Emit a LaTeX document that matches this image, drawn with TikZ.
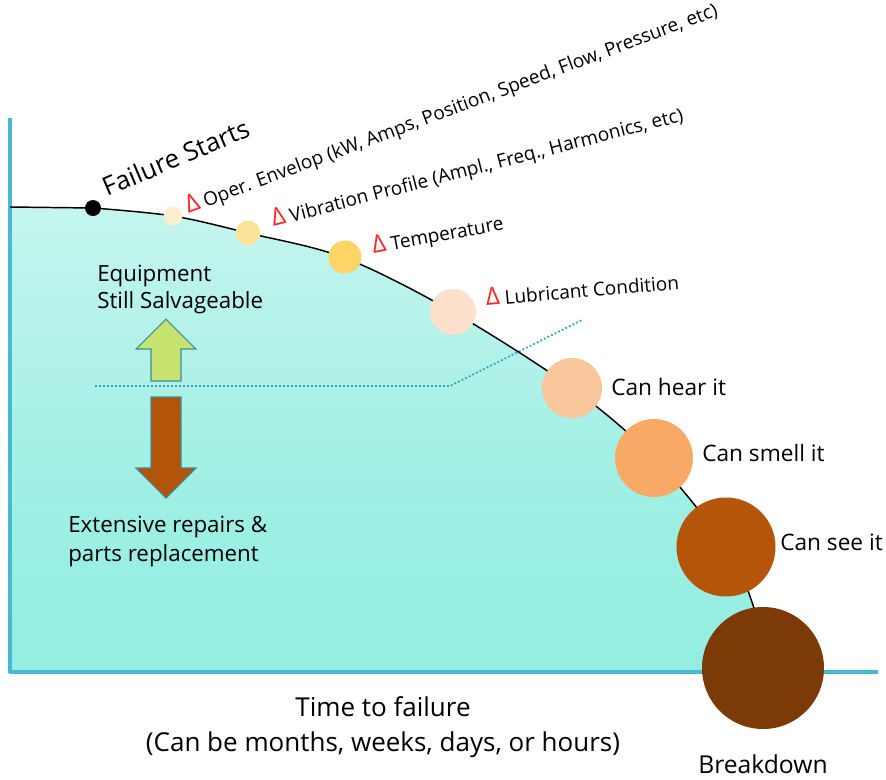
\documentclass[tikz,border=0pt]{standalone}
\usepackage{fontspec}
\setmainfont{Open Sans}
\definecolor{axisblue}{HTML}{48B9D3}
\definecolor{deltared}{HTML}{FF2A2A}
\definecolor{dotline}{HTML}{3A9CB5}
\definecolor{arrowedge}{HTML}{3E8E9E}
\definecolor{upgreen}{HTML}{C5E36E}
\definecolor{downbrown}{HTML}{B25409}
\definecolor{fillA}{HTML}{A6F1E6}
\definecolor{fillB}{HTML}{88EDDE}
\definecolor{fillC}{HTML}{9FEFE4}
\definecolor{fillD}{HTML}{CBF6F1}
\definecolor{fillE}{HTML}{E9FBF9}
\definecolor{s1}{HTML}{FDEFCC}
\definecolor{s2}{HTML}{FCE39A}
\definecolor{s3}{HTML}{FDD466}
\definecolor{s4}{HTML}{FBE0CC}
\definecolor{s5}{HTML}{F9C59A}
\definecolor{s6}{HTML}{F8A966}
\definecolor{s7}{HTML}{B45509}
\definecolor{s8}{HTML}{7B3A06}
\pgfdeclareverticalshading{areashade}{100bp}{color(0bp)=(fillA); color(7bp)=(fillB); color(45bp)=(fillC); color(80bp)=(fillD); color(100bp)=(fillE)}
\newcommand{\pxfont}[1]{\fontsize{#1}{#1}\selectfont}
\newcommand{\dl}{{\color{deltared}\scalebox{1.3}{Δ}}\ }
\tikzset{
  stage/.style={circle, inner sep=0pt, draw=none},
  tag/.style={anchor=base west, inner sep=0pt, text=black},
  slanted/.style={tag, font=\pxfont{14.25pt}},
  side/.style={tag, font=\pxfont{17pt}},
  note/.style={tag, font=\pxfont{16.75pt}, align=left},
  axisline/.style={axisblue, line width=2.4pt},
  blockarrow/.style={draw=arrowedge, line width=0.8pt, line join=miter},
}
\begin{document}
\begin{tikzpicture}[x=0.75pt, y=-0.75pt]
\useasboundingbox (0,0) rectangle (886,779);

% area under the degradation curve
\fill[shading=areashade] (10,207) -- (93,208)
  -- plot[smooth, tension=0.55] coordinates {(93,208) (173,216) (248,233) (345,258) (453,312) (572,388) (654,458) (726,547) (754,608) (768,672)}
  -- (10,672) -- cycle;

% axes
\draw[axisline] (10,118) -- (10,673.2);
\draw[axisline] (8.8,672) -- (878,672);

% boundary between salvageable and extensive repair
\draw[dotline, line width=1.3pt, dash pattern=on 1.4pt off 1.6pt] (95,386) -- (450,386) -- (582,320);

% degradation curve
\draw[line width=1.1pt] (10,207) -- (93,208)
  plot[smooth, tension=0.55] coordinates {(93,208) (173,216) (248,233) (345,258) (453,312) (572,388) (654,458) (726,547) (754,608) (768,672)};

% symptom stages along the curve
\node[stage, fill=black, minimum size=12pt] (fs) at (93,208) {};
\node[stage, fill=s1, minimum size=14.25pt] (oe) at (173,216) {};
\node[stage, fill=s2, minimum size=18.75pt] (vp) at (248,233) {};
\node[stage, fill=s3, minimum size=24.75pt] (tp) at (345,257) {};
\node[stage, fill=s4, minimum size=34.5pt] (lc) at (453,312) {};
\node[stage, fill=s5, minimum size=45pt] (hr) at (572,388) {};
\node[stage, fill=s6, minimum size=58.5pt] (sm) at (654,458) {};
\node[stage, fill=s7, minimum size=74.25pt] (se) at (726,547) {};
\node[stage, fill=s8, minimum size=91.5pt] (bd) at (763,668) {};

% stage labels
\node[tag, font=\pxfont{19.3pt}, rotate=23] (fsl) at (107,197) {Failure Starts};
\node[slanted, rotate=20.5] (oel) at (188,214) {\dl Oper. Envelop (kW, Amps, Position, Speed, Flow, Pressure, etc)};
\node[slanted, rotate=14.5] (vpl) at (273,227) {\dl Vibration Profile (Ampl., Freq., Harmonics, etc)};
\node[slanted, rotate=10.5] (tpl) at (373,254) {\dl Temperature};
\node[slanted, rotate=5] (lcl) at (486,306) {\dl Lubricant Condition};
\node[side] (hrl) at (611,395) {Can hear it};
\node[side] (sml) at (702,461) {Can smell it};
\node[side] (sel) at (780,550) {Can see it};
\node[tag, font=\pxfont{18.5pt}] (bdl) at (698,773) {Breakdown};

% block arrows
\draw[blockarrow, fill=upgreen] (151,381) -- (151,349) -- (136,349) -- (166,319) -- (196,349) -- (181,349) -- (181,381) -- cycle;
\draw[blockarrow, fill=downbrown] (151,397) -- (151,468) -- (136,468) -- (166,498) -- (196,468) -- (181,468) -- (181,397) -- cycle;

% region notes
\node[note] (eq1) at (97,281) {Equipment};
\node[note] (eq2) at (97,308) {Still Salvageable};
\node[note] (ex1) at (68,532) {Extensive repairs \&};
\node[note] (ex2) at (68,561) {parts replacement};

% time axis caption
\node[anchor=base, inner sep=0pt, font=\pxfont{19.5pt}] (t1) at (383,716) {Time to failure};
\node[anchor=base, inner sep=0pt, font=\pxfont{19.5pt}] (t2) at (383,751) {(Can be months, weeks, days, or hours)};
\end{tikzpicture}
\end{document}
